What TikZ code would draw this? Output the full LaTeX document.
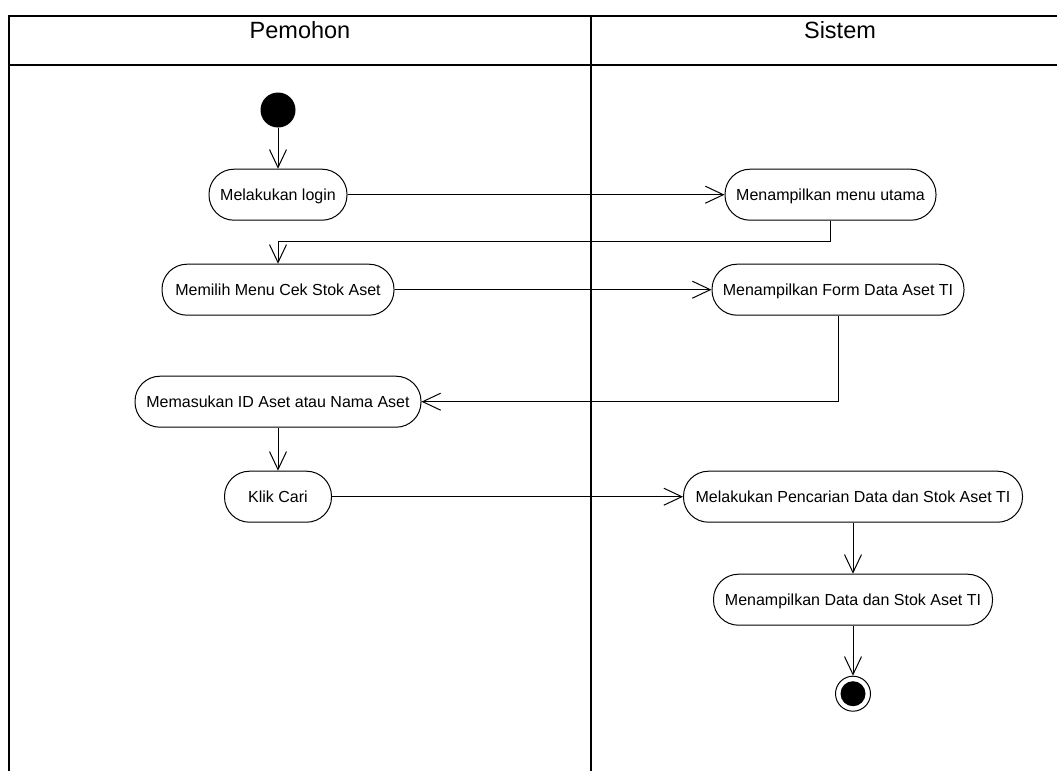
\documentclass[tikz,border=0pt]{standalone}
\usepackage{fontspec}
\setmainfont{Liberation Sans}
\usetikzlibrary{arrows.meta, positioning}
\newcommand{\actfont}{\fontsize{16pt}{19pt}\selectfont}
\newcommand{\lanefont}{\fontsize{23.5pt}{28pt}\selectfont}
\tikzset{
    actbox/.style={rectangle, rounded corners=25pt, draw=black, line width=1pt, minimum height=51pt, inner sep=2pt, font=\actfont, text height=11.5pt, text depth=0pt, align=center},
    flowarr/.style={line width=1pt, black, -{Straight Barb[length=18pt, width=17pt]}},
    lanehead/.style={font=\lanefont, anchor=base, inner sep=0pt},
}

\begin{document}
\begin{tikzpicture}[x=1pt, y=-1pt,
  startdot/.style={circle, fill=black, minimum size=35pt, inner sep=0pt},
  enddot/.style={circle, draw=black, line width=1pt, minimum size=35pt, inner sep=0pt, path picture={\fill[black] (path picture bounding box.center) circle (12.5pt);}},
  laneline/.style={line width=1.2pt, black}
]
\useasboundingbox (0,0) rectangle (1057,771);

% Swimlanes (right edge runs off the page)
\draw[laneline] (1057,16) -- (9,16) -- (9,771);
\draw[laneline] (9,65) -- (1057,65);
\draw[laneline] (591,16) -- (591,771);
\node[lanehead] (pemohon) at (300,38) {Pemohon};
\node[lanehead] (sistem) at (840,38) {Sistem};

% Left lane - Pemohon
\node[startdot] (start) at (278,110) {};
\node[actbox, minimum width=138pt, below=41pt of start] (login) {Melakukan login};
\node[actbox, minimum width=232pt, below=43pt of login] (memilih) {Memilih Menu Cek Stok Aset};
\node[actbox, minimum width=286pt, below=60pt of memilih] (memasukan) {Memasukan ID Aset atau Nama Aset};
\node[actbox, minimum width=107pt, below=43pt of memasukan] (klik) {Klik Cari};

% Right lane - Sistem
\node[actbox, minimum width=211pt, right=377pt of login] (menu) {Menampilkan menu utama};
\node[actbox, minimum width=252pt, right=317pt of memilih] (form) {Menampilkan Form Data Aset TI};
\node[actbox, minimum width=339pt, right=351pt of klik] (pencarian) {Melakukan Pencarian Data dan Stok Aset TI};
\node[actbox, minimum width=279pt, below=51pt of pencarian] (tampil) {Menampilkan Data dan Stok Aset TI};
\node[enddot, below=50pt of tampil] (finish) {};

% Flow
\draw[flowarr] (start) -- (login);
\draw[flowarr] (login) -- (menu);
\draw[flowarr] (menu.south) -- ++(0,-21pt) -| (memilih.north);
\draw[flowarr] (memilih) -- (form);
\draw[flowarr] (form.south) |- (memasukan.east);
\draw[flowarr] (memasukan) -- (klik);
\draw[flowarr] (klik) -- (pencarian);
\draw[flowarr] (pencarian) -- (tampil);
\draw[flowarr] (tampil) -- (finish);
\end{tikzpicture}
\end{document}
